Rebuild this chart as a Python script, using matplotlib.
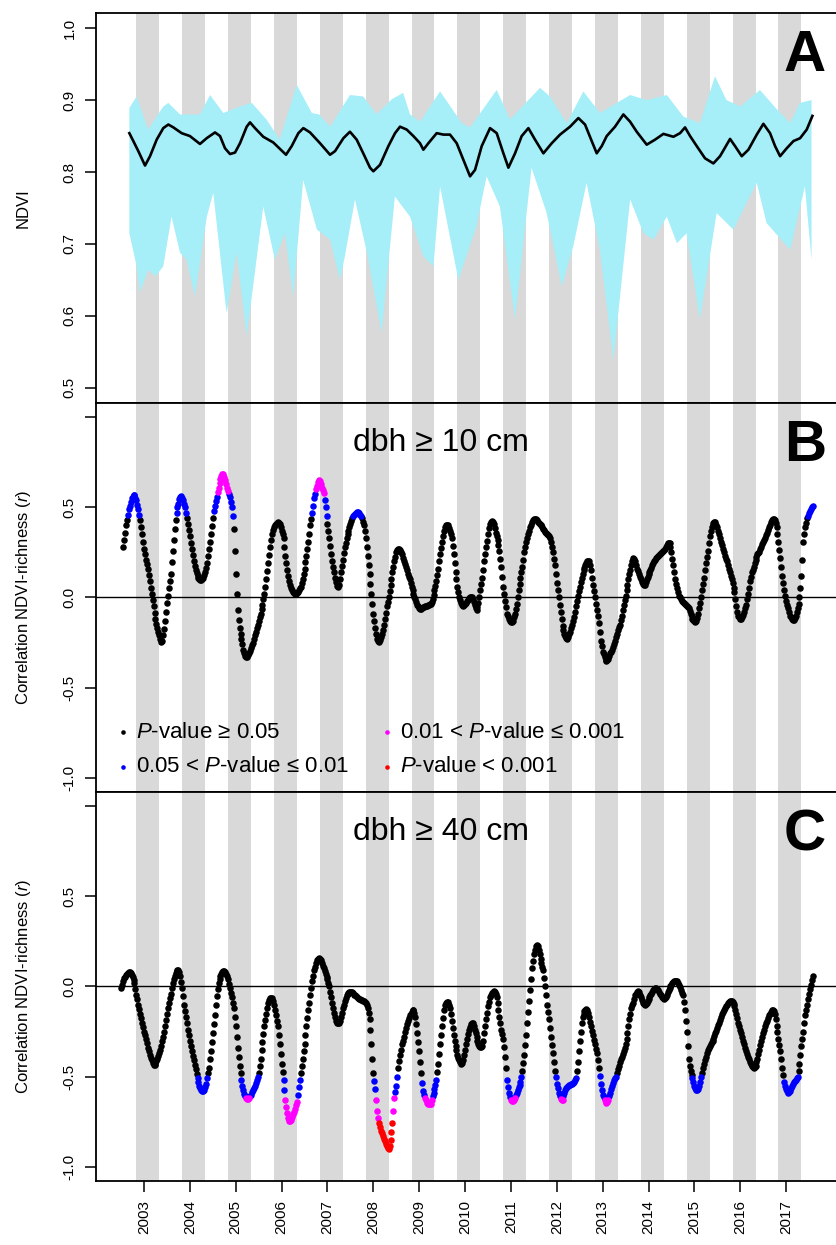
import numpy as np
import matplotlib
matplotlib.use('Agg')
import matplotlib.pyplot as plt

plt.rcParams['font.family'] = ['Liberation Sans', 'DejaVu Sans']
plt.rcParams['mathtext.fontset'] = 'custom'
plt.rcParams['mathtext.rm'] = 'Liberation Sans'
plt.rcParams['mathtext.it'] = 'Liberation Sans:italic'
plt.rcParams['mathtext.bf'] = 'Liberation Sans:bold'

years = list(range(2003, 2018))

# panel A: mean NDVI and its range
ndvi_t = [2002.68, 2002.767, 2002.876, 2003.022, 2003.131, 2003.276, 2003.42, 2003.53,
          2003.64, 2003.82, 2004.0, 2004.22, 2004.366, 2004.548, 2004.657, 2004.766,
          2004.875, 2004.984, 2005.093, 2005.239, 2005.311, 2005.42, 2005.6, 2005.82,
          2005.966, 2006.096, 2006.22, 2006.365, 2006.474, 2006.62, 2006.838, 2007.056,
          2007.165, 2007.347, 2007.49, 2007.637, 2007.78, 2007.928, 2008.0, 2008.146,
          2008.328, 2008.473, 2008.582, 2008.727, 2008.873, 2009.018, 2009.091, 2009.2,
          2009.382, 2009.527, 2009.672, 2009.818, 2009.963, 2010.109, 2010.218, 2010.363,
          2010.545, 2010.69, 2010.836, 2010.945, 2011.09, 2011.235, 2011.381, 2011.526,
          2011.708, 2011.89, 2012.071, 2012.289, 2012.471, 2012.616, 2012.762, 2012.871,
          2012.98, 2013.089, 2013.27, 2013.452, 2013.598, 2013.743, 2013.961, 2014.143,
          2014.325, 2014.543, 2014.688, 2014.797, 2014.906, 2015.052, 2015.233, 2015.415,
          2015.56, 2015.778, 2015.887, 2016.033, 2016.178, 2016.36, 2016.505, 2016.65,
          2016.76, 2016.869, 2017.014, 2017.16, 2017.305, 2017.45, 2017.574]
ndvi_mean = [0.854, 0.843, 0.829, 0.809, 0.822, 0.845, 0.861, 0.866,
             0.862, 0.854, 0.850, 0.839, 0.847, 0.855, 0.850, 0.833,
             0.825, 0.827, 0.840, 0.863, 0.869, 0.861, 0.849, 0.841,
             0.832, 0.824, 0.836, 0.854, 0.861, 0.855, 0.840, 0.824,
             0.829, 0.847, 0.856, 0.845, 0.826, 0.806, 0.801, 0.810,
             0.836, 0.854, 0.863, 0.859, 0.850, 0.840, 0.831, 0.840,
             0.854, 0.852, 0.852, 0.840, 0.817, 0.794, 0.803, 0.836,
             0.861, 0.854, 0.826, 0.806, 0.826, 0.850, 0.861, 0.845,
             0.826, 0.840, 0.852, 0.863, 0.875, 0.866, 0.843, 0.826,
             0.836, 0.850, 0.863, 0.880, 0.870, 0.856, 0.838, 0.845,
             0.853, 0.849, 0.854, 0.862, 0.850, 0.836, 0.819, 0.812,
             0.822, 0.846, 0.836, 0.822, 0.831, 0.852, 0.867, 0.854,
             0.836, 0.822, 0.833, 0.843, 0.847, 0.859, 0.878]

up_t = [2002.68, 2002.84, 2003.09, 2003.42, 2003.53, 2003.785, 2004.22, 2004.44,
        2004.73, 2005.09, 2005.35, 2005.67, 2005.96, 2006.33, 2006.66, 2006.82,
        2007.06, 2007.49, 2007.78, 2008.07, 2008.40, 2008.65, 2008.80, 2009.02,
        2009.455, 2009.93, 2010.11, 2010.69, 2010.98, 2011.635, 2011.85, 2012.22,
        2012.58, 2012.94, 2013.60, 2013.96, 2014.40, 2014.76, 2015.12, 2015.45,
        2015.70, 2016.0, 2016.43, 2016.80, 2017.09, 2017.30, 2017.555]
ndvi_up = [0.889, 0.905, 0.859, 0.891, 0.896, 0.880, 0.880, 0.907,
           0.882, 0.891, 0.896, 0.873, 0.845, 0.921, 0.882, 0.880,
           0.863, 0.907, 0.905, 0.880, 0.901, 0.910, 0.880, 0.870,
           0.912, 0.868, 0.862, 0.914, 0.873, 0.917, 0.905, 0.868,
           0.912, 0.882, 0.907, 0.900, 0.907, 0.877, 0.868, 0.933,
           0.900, 0.891, 0.914, 0.887, 0.868, 0.896, 0.900]

lo_t = [2002.68, 2002.84, 2002.91, 2003.09, 2003.25, 2003.42, 2003.60, 2003.785,
        2003.93, 2004.11, 2004.37, 2004.51, 2004.80, 2005.02, 2005.24, 2005.60,
        2005.855, 2006.07, 2006.255, 2006.47, 2006.77, 2007.06, 2007.27, 2007.38,
        2007.60, 2007.86, 2008.18, 2008.47, 2008.80, 2009.09, 2009.31, 2009.455,
        2009.855, 2010.25, 2010.47, 2010.76, 2011.09, 2011.45, 2011.78, 2012.11,
        2012.36, 2012.65, 2012.94, 2013.235, 2013.60, 2013.89, 2014.11, 2014.40,
        2014.62, 2014.83, 2015.12, 2015.485, 2015.85, 2016.36, 2016.575, 2017.09,
        2017.41, 2017.555]
ndvi_lo = [0.715, 0.669, 0.632, 0.664, 0.655, 0.669, 0.738, 0.688,
           0.678, 0.627, 0.738, 0.771, 0.604, 0.688, 0.572, 0.752,
           0.678, 0.715, 0.627, 0.789, 0.720, 0.706, 0.650, 0.683,
           0.762, 0.688, 0.576, 0.766, 0.738, 0.683, 0.669, 0.780,
           0.650, 0.725, 0.794, 0.752, 0.595, 0.806, 0.743, 0.641,
           0.697, 0.785, 0.692, 0.539, 0.762, 0.715, 0.706, 0.738,
           0.701, 0.715, 0.595, 0.743, 0.720, 0.785, 0.729, 0.692,
           0.780, 0.678]

# panels B and C: correlation read every 1/48 year, one row per year
step = 1 / 48
t0_b = 2002.5 + 2 * step
r_b = [
    0.28, 0.32, 0.36, 0.40, 0.43, 0.46, 0.49, 0.51, 0.53, 0.55, 0.56, 0.567,
    0.567, 0.555, 0.54, 0.515, 0.49, 0.46, 0.43, 0.39, 0.35, 0.31,
    # 2003
    0.27, 0.24, 0.21, 0.185, 0.16, 0.125, 0.09, 0.055, 0.02, -0.015, -0.05, -0.085,
    -0.12, -0.145, -0.17, -0.19, -0.21, -0.23, -0.245, -0.24, -0.21, -0.175, -0.13, -0.08,
    -0.03, 0.01, 0.05, 0.09, 0.13, 0.195, 0.26, 0.32, 0.38, 0.43, 0.47, 0.50,
    0.52, 0.545, 0.56, 0.565, 0.555, 0.54, 0.52, 0.50, 0.47, 0.44, 0.41, 0.375,
    # 2004
    0.34, 0.305, 0.27, 0.235, 0.20, 0.175, 0.155, 0.135, 0.12, 0.11, 0.10, 0.095,
    0.095, 0.10, 0.11, 0.125, 0.14, 0.165, 0.19, 0.23, 0.27, 0.31, 0.35, 0.395,
    0.44, 0.48, 0.51, 0.535, 0.56, 0.585, 0.61, 0.635, 0.66, 0.675, 0.685, 0.685,
    0.67, 0.65, 0.63, 0.61, 0.59, 0.575, 0.557, 0.53, 0.50, 0.45, 0.38, 0.26,
    # 2005
    0.13, 0.02, -0.07, -0.125, -0.17, -0.20, -0.23, -0.26, -0.29, -0.31, -0.325, -0.33,
    -0.33, -0.32, -0.31, -0.295, -0.28, -0.265, -0.25, -0.23, -0.21, -0.19, -0.17, -0.15,
    -0.13, -0.11, -0.09, -0.065, -0.04, -0.01, 0.02, 0.06, 0.10, 0.145, 0.19, 0.235,
    0.28, 0.32, 0.35, 0.375, 0.39, 0.40, 0.41, 0.415, 0.42, 0.415, 0.41, 0.39,
    # 2006
    0.37, 0.355, 0.33, 0.28, 0.23, 0.19, 0.15, 0.12, 0.09, 0.07, 0.05, 0.04,
    0.03, 0.025, 0.02, 0.02, 0.025, 0.03, 0.04, 0.05, 0.06, 0.08, 0.10, 0.13,
    0.16, 0.195, 0.23, 0.27, 0.31, 0.355, 0.40, 0.435, 0.47, 0.51, 0.55, 0.575,
    0.60, 0.62, 0.64, 0.65, 0.645, 0.63, 0.61, 0.595, 0.58, 0.54, 0.50, 0.455,
    # 2007
    0.41, 0.37, 0.33, 0.285, 0.24, 0.205, 0.17, 0.14, 0.11, 0.085, 0.065, 0.06,
    0.07, 0.10, 0.14, 0.175, 0.21, 0.245, 0.28, 0.305, 0.33, 0.35, 0.37, 0.39,
    0.41, 0.425, 0.44, 0.45, 0.46, 0.465, 0.47, 0.473, 0.474, 0.47, 0.46, 0.45,
    0.44, 0.42, 0.40, 0.37, 0.33, 0.28, 0.23, 0.18, 0.13, 0.075, 0.02, -0.035,
    # 2008
    -0.09, -0.13, -0.17, -0.20, -0.23, -0.24, -0.245, -0.235, -0.22, -0.20, -0.18, -0.15,
    -0.12, -0.085, -0.05, -0.025, 0.00, 0.035, 0.07, 0.105, 0.14, 0.17, 0.20, 0.225,
    0.25, 0.263, 0.27, 0.27, 0.265, 0.255, 0.24, 0.22, 0.20, 0.185, 0.17, 0.15,
    0.13, 0.115, 0.10, 0.08, 0.06, 0.04, 0.02, 0.005, -0.01, -0.025, -0.04, -0.05,
    # 2009
    -0.06, -0.063, -0.063, -0.06, -0.055, -0.052, -0.05, -0.048, -0.045, -0.042, -0.04, -0.038,
    -0.035, -0.025, -0.01, 0.015, 0.04, 0.065, 0.09, 0.125, 0.16, 0.20, 0.24, 0.275,
    0.31, 0.34, 0.37, 0.39, 0.405, 0.405, 0.40, 0.385, 0.37, 0.35, 0.33, 0.285,
    0.24, 0.19, 0.14, 0.10, 0.06, 0.03, 0.00, -0.015, -0.03, -0.04, -0.045, -0.042,
    # 2010
    -0.035, -0.028, -0.02, -0.012, -0.005, 0.00, 0.005, 0.0, -0.01, -0.025, -0.04, -0.06,
    -0.07, -0.055, -0.03, 0.005, 0.04, 0.075, 0.11, 0.155, 0.20, 0.24, 0.28, 0.315,
    0.35, 0.385, 0.41, 0.42, 0.425, 0.42, 0.41, 0.385, 0.36, 0.34, 0.32, 0.29,
    0.26, 0.215, 0.17, 0.115, 0.06, 0.02, -0.02, -0.055, -0.09, -0.105, -0.12, -0.13,
    # 2011
    -0.135, -0.137, -0.13, -0.11, -0.09, -0.065, -0.035, 0.00, 0.04, 0.075, 0.11, 0.14,
    0.17, 0.21, 0.25, 0.28, 0.31, 0.33, 0.35, 0.37, 0.39, 0.405, 0.42, 0.43,
    0.435, 0.437, 0.435, 0.43, 0.42, 0.415, 0.41, 0.405, 0.40, 0.39, 0.38, 0.372,
    0.365, 0.357, 0.35, 0.345, 0.34, 0.33, 0.31, 0.28, 0.25, 0.215, 0.18, 0.13,
    # 2012
    0.08, 0.04, 0.00, -0.04, -0.08, -0.12, -0.16, -0.18, -0.20, -0.215, -0.225, -0.228,
    -0.22, -0.205, -0.19, -0.17, -0.15, -0.13, -0.11, -0.08, -0.05, -0.02, 0.01, 0.035,
    0.06, 0.085, 0.11, 0.13, 0.15, 0.165, 0.18, 0.19, 0.20, 0.205, 0.20, 0.18,
    0.15, 0.11, 0.07, 0.035, 0.00, -0.035, -0.07, -0.105, -0.14, -0.19, -0.24, -0.27,
    # 2013
    -0.30, -0.315, -0.33, -0.345, -0.35, -0.348, -0.34, -0.325, -0.31, -0.30, -0.29, -0.275,
    -0.26, -0.24, -0.22, -0.20, -0.18, -0.165, -0.15, -0.125, -0.10, -0.07, -0.04, -0.015,
    0.01, 0.04, 0.07, 0.10, 0.13, 0.155, 0.18, 0.205, 0.22, 0.215, 0.20, 0.18,
    0.16, 0.145, 0.13, 0.115, 0.10, 0.085, 0.075, 0.068, 0.07, 0.085, 0.10, 0.115,
    # 2014
    0.13, 0.14, 0.15, 0.165, 0.18, 0.19, 0.20, 0.21, 0.22, 0.225, 0.23, 0.235,
    0.24, 0.248, 0.255, 0.26, 0.265, 0.272, 0.28, 0.29, 0.30, 0.305, 0.30, 0.28,
    0.25, 0.215, 0.18, 0.14, 0.10, 0.075, 0.05, 0.03, 0.01, 0.00, -0.01, -0.018,
    -0.025, -0.03, -0.035, -0.042, -0.05, -0.055, -0.06, -0.075, -0.09, -0.105, -0.12, -0.127,
    # 2015
    -0.13, -0.135, -0.13, -0.115, -0.09, -0.06, -0.03, 0.005, 0.04, 0.075, 0.11, 0.15,
    0.19, 0.225, 0.26, 0.30, 0.34, 0.37, 0.39, 0.405, 0.415, 0.42, 0.42, 0.405,
    0.39, 0.37, 0.35, 0.33, 0.31, 0.29, 0.27, 0.25, 0.23, 0.215, 0.20, 0.18,
    0.16, 0.14, 0.12, 0.10, 0.08, 0.055, 0.03, -0.01, -0.05, -0.08, -0.10, -0.11,
    # 2016
    -0.12, -0.118, -0.11, -0.095, -0.08, -0.06, -0.04, -0.01, 0.02, 0.055, 0.09, 0.115,
    0.14, 0.155, 0.17, 0.19, 0.21, 0.225, 0.24, 0.248, 0.255, 0.268, 0.28, 0.295,
    0.31, 0.32, 0.33, 0.345, 0.36, 0.375, 0.39, 0.405, 0.42, 0.43, 0.435, 0.437,
    0.43, 0.415, 0.39, 0.355, 0.31, 0.265, 0.22, 0.17, 0.12, 0.08, 0.04, 0.01,
    # 2017
    -0.02, -0.04, -0.06, -0.08, -0.10, -0.11, -0.12, -0.125, -0.125, -0.115, -0.10, -0.08,
    -0.06, -0.035, 0.00, 0.05, 0.12, 0.21, 0.31, 0.355, 0.39, 0.415, 0.44, 0.455,
    0.47, 0.48, 0.49, 0.50, 0.51]

t0_c = 2002.5
r_c = [
    -0.01, 0.01, 0.03, 0.045, 0.055, 0.063, 0.07, 0.076, 0.08, 0.078, 0.075, 0.064,
    0.05, 0.035, 0.02, -0.012, -0.045, -0.072, -0.10, -0.125, -0.15, -0.175, -0.20, -0.225,
    # 2003
    -0.25, -0.27, -0.29, -0.315, -0.34, -0.36, -0.38, -0.395, -0.41, -0.425, -0.435, -0.437,
    -0.43, -0.415, -0.40, -0.385, -0.37, -0.35, -0.33, -0.305, -0.28, -0.25, -0.22, -0.185,
    -0.15, -0.12, -0.09, -0.065, -0.04, -0.01, 0.02, 0.04, 0.06, 0.075, 0.085, 0.092,
    0.094, 0.082, 0.06, 0.027, -0.01, -0.055, -0.10, -0.135, -0.17, -0.205, -0.24, -0.27,
    # 2004
    -0.30, -0.33, -0.36, -0.385, -0.41, -0.435, -0.46, -0.485, -0.51, -0.53, -0.55, -0.565,
    -0.575, -0.58, -0.58, -0.573, -0.56, -0.54, -0.51, -0.48, -0.45, -0.405, -0.36, -0.31,
    -0.26, -0.21, -0.16, -0.105, -0.055, -0.015, 0.02, 0.043, 0.06, 0.072, 0.08, 0.084,
    0.085, 0.08, 0.07, 0.057, 0.04, 0.015, -0.01, -0.035, -0.06, -0.09, -0.12, -0.17,
    # 2005
    -0.22, -0.28, -0.34, -0.39, -0.44, -0.48, -0.52, -0.55, -0.575, -0.595, -0.61, -0.62,
    -0.625, -0.625, -0.62, -0.61, -0.60, -0.588, -0.575, -0.563, -0.55, -0.535, -0.52, -0.50,
    -0.48, -0.44, -0.40, -0.355, -0.31, -0.265, -0.22, -0.185, -0.15, -0.12, -0.09, -0.075,
    -0.065, -0.062, -0.065, -0.08, -0.10, -0.13, -0.16, -0.19, -0.22, -0.27, -0.32, -0.375,
    # 2006
    -0.43, -0.475, -0.52, -0.575, -0.63, -0.67, -0.70, -0.73, -0.745, -0.747, -0.74, -0.727,
    -0.71, -0.695, -0.68, -0.66, -0.64, -0.60, -0.56, -0.52, -0.48, -0.44, -0.40, -0.36,
    -0.32, -0.27, -0.22, -0.175, -0.13, -0.09, -0.05, -0.01, 0.03, 0.06, 0.09, 0.11,
    0.13, 0.145, 0.155, 0.158, 0.155, 0.145, 0.13, 0.115, 0.10, 0.085, 0.07, 0.055,
    # 2007
    0.04, 0.02, 0.00, -0.03, -0.06, -0.09, -0.12, -0.145, -0.17, -0.19, -0.20, -0.205,
    -0.20, -0.19, -0.17, -0.145, -0.12, -0.10, -0.08, -0.063, -0.05, -0.042, -0.035, -0.031,
    -0.028, -0.028, -0.03, -0.037, -0.045, -0.05, -0.055, -0.06, -0.063, -0.067, -0.07, -0.073,
    -0.075, -0.078, -0.08, -0.085, -0.09, -0.10, -0.12, -0.145, -0.18, -0.24, -0.32, -0.40,
    # 2008
    -0.48, -0.525, -0.57, -0.63, -0.69, -0.73, -0.76, -0.78, -0.80, -0.815, -0.83, -0.845,
    -0.86, -0.873, -0.885, -0.895, -0.905, -0.885, -0.85, -0.81, -0.76, -0.69, -0.62, -0.585,
    -0.554, -0.50, -0.45, -0.415, -0.38, -0.35, -0.32, -0.30, -0.28, -0.255, -0.23, -0.21,
    -0.19, -0.175, -0.16, -0.15, -0.14, -0.132, -0.13, -0.145, -0.17, -0.21, -0.26, -0.31,
    # 2009
    -0.36, -0.42, -0.48, -0.535, -0.58, -0.60, -0.62, -0.633, -0.645, -0.65, -0.655, -0.655,
    -0.65, -0.63, -0.61, -0.59, -0.57, -0.545, -0.52, -0.475, -0.43, -0.375, -0.32, -0.27,
    -0.22, -0.175, -0.13, -0.105, -0.09, -0.085, -0.085, -0.10, -0.12, -0.155, -0.19, -0.23,
    -0.27, -0.30, -0.33, -0.355, -0.38, -0.395, -0.41, -0.42, -0.43, -0.425, -0.41, -0.38,
    # 2010
    -0.35, -0.32, -0.29, -0.265, -0.24, -0.225, -0.21, -0.203, -0.205, -0.22, -0.24, -0.26,
    -0.28, -0.30, -0.32, -0.33, -0.335, -0.335, -0.33, -0.30, -0.26, -0.22, -0.18, -0.145,
    -0.11, -0.085, -0.06, -0.045, -0.035, -0.028, -0.026, -0.03, -0.04, -0.06, -0.09, -0.13,
    -0.17, -0.205, -0.24, -0.265, -0.29, -0.335, -0.39, -0.455, -0.52, -0.56, -0.59, -0.615,
    # 2011
    -0.63, -0.635, -0.635, -0.63, -0.62, -0.605, -0.59, -0.575, -0.56, -0.545, -0.53, -0.50,
    -0.47, -0.425, -0.38, -0.325, -0.27, -0.205, -0.14, -0.08, -0.02, 0.04, 0.10, 0.14,
    0.18, 0.205, 0.225, 0.232, 0.225, 0.205, 0.18, 0.155, 0.13, 0.11, 0.09, 0.045,
    0.00, -0.05, -0.10, -0.14, -0.18, -0.23, -0.28, -0.325, -0.37, -0.42, -0.47, -0.505,
    # 2012
    -0.54, -0.565, -0.59, -0.61, -0.625, -0.632, -0.63, -0.61, -0.59, -0.575, -0.565, -0.557,
    -0.55, -0.547, -0.545, -0.542, -0.54, -0.535, -0.53, -0.52, -0.51, -0.47, -0.42, -0.36,
    -0.30, -0.25, -0.20, -0.17, -0.15, -0.138, -0.13, -0.127, -0.13, -0.148, -0.17, -0.195,
    -0.22, -0.245, -0.27, -0.295, -0.32, -0.345, -0.37, -0.41, -0.45, -0.495, -0.54, -0.575,
    # 2013
    -0.60, -0.615, -0.63, -0.64, -0.645, -0.642, -0.63, -0.61, -0.59, -0.57, -0.55, -0.535,
    -0.52, -0.51, -0.50, -0.48, -0.46, -0.44, -0.42, -0.405, -0.39, -0.375, -0.36, -0.34,
    -0.32, -0.29, -0.26, -0.22, -0.18, -0.15, -0.12, -0.105, -0.09, -0.07, -0.05, -0.04,
    -0.03, -0.027, -0.03, -0.045, -0.06, -0.075, -0.09, -0.097, -0.10, -0.097, -0.09, -0.08,
    # 2014
    -0.07, -0.06, -0.05, -0.04, -0.03, -0.022, -0.015, -0.01, -0.008, -0.012, -0.02, -0.03,
    -0.04, -0.05, -0.06, -0.065, -0.068, -0.066, -0.06, -0.045, -0.03, -0.02, -0.01, 0.00,
    0.01, 0.018, 0.025, 0.028, 0.03, 0.03, 0.028, 0.02, 0.01, -0.005, -0.02, -0.035,
    -0.05, -0.085, -0.13, -0.19, -0.25, -0.33, -0.40, -0.44, -0.47, -0.49, -0.51, -0.53,
    # 2015
    -0.55, -0.565, -0.575, -0.577, -0.57, -0.55, -0.53, -0.505, -0.48, -0.455, -0.43, -0.41,
    -0.39, -0.37, -0.35, -0.34, -0.33, -0.32, -0.31, -0.30, -0.29, -0.275, -0.26, -0.245,
    -0.23, -0.215, -0.20, -0.185, -0.17, -0.155, -0.14, -0.13, -0.12, -0.11, -0.10, -0.092,
    -0.085, -0.08, -0.08, -0.082, -0.085, -0.095, -0.11, -0.13, -0.15, -0.175, -0.20, -0.22,
    # 2016
    -0.24, -0.26, -0.28, -0.30, -0.32, -0.34, -0.36, -0.375, -0.39, -0.405, -0.42, -0.43,
    -0.44, -0.447, -0.45, -0.447, -0.44, -0.42, -0.40, -0.375, -0.35, -0.325, -0.30, -0.28,
    -0.26, -0.24, -0.22, -0.205, -0.19, -0.175, -0.16, -0.15, -0.14, -0.133, -0.13, -0.135,
    -0.15, -0.18, -0.22, -0.255, -0.29, -0.325, -0.36, -0.405, -0.45, -0.49, -0.53, -0.555,
    # 2017
    -0.57, -0.582, -0.59, -0.588, -0.58, -0.565, -0.55, -0.54, -0.53, -0.525, -0.52, -0.51,
    -0.50, -0.47, -0.43, -0.38, -0.33, -0.29, -0.25, -0.205, -0.16, -0.13, -0.10, -0.07,
    -0.04, -0.015, 0.01, 0.035, 0.06]

# |r| limits of the p-value classes, read where the dot colour changes
crit_b = [0.45, 0.58, 9.0]
crit_c = [0.495, 0.62, 0.75]
class_colours = ['black', '#0000ff', '#ff00ff', '#ff0000']
class_labels = [r'$P$-value ≥ 0.05', r'0.05 < $P$-value ≤ 0.01',
                r'0.01 < $P$-value ≤ 0.001', r'$P$-value < 0.001']

fig = plt.figure(figsize=(8.37, 12.45), dpi=100)
left, width = 96 / 837, 741 / 837
ax_a = fig.add_axes([left, 0.67631, width, 0.31325])
ax_b = fig.add_axes([left, 0.36386, width, 0.31245])
ax_c = fig.add_axes([left, 0.05141, width, 0.31245])

for ax in (ax_a, ax_b, ax_c):
    ax.set_xlim(2001.953, 2018.11)
    for y in years:
        ax.axvspan(y - 2 / 12, y + 4 / 12, color='#d9d9d9', lw=0, zorder=0)
    ax.spines['right'].set_visible(False)
    for s in ('top', 'bottom', 'left'):
        ax.spines[s].set_linewidth(1.3)
    ax.tick_params(axis='both', length=8, width=1.1, pad=6, labelsize=11)

# panel A
ax_a.fill(np.r_[up_t, lo_t[::-1]], np.r_[ndvi_up, ndvi_lo[::-1]],
          color='#a6eef8', lw=0, zorder=1)
ax_a.plot(ndvi_t, ndvi_mean, color='black', lw=1.9, zorder=2,
          solid_joinstyle='round')
ax_a.set_ylim(0.479, 1.021)
ax_a.set_yticks([0.5, 0.6, 0.7, 0.8, 0.9, 1.0])
ax_a.set_yticklabels(['0.5', '0.6', '0.7', '0.8', '0.9', '1.0'])
ax_a.set_xticks([])
ax_a.text(-0.0978, 0.5, 'NDVI', transform=ax_a.transAxes, rotation=90,
          ha='center', va='center', fontsize=12)


def p_class(r, crit):
    a = np.abs(np.asarray(r))
    k = np.zeros(len(a), dtype=int)
    for i, c in enumerate(crit):
        k[a >= c] = i + 1
    return k


for ax, t0, r, crit, name in ((ax_b, t0_b, r_b, crit_b, 'dbh ≥ 10 cm'),
                              (ax_c, t0_c, r_c, crit_c, 'dbh ≥ 40 cm')):
    t = t0 + np.arange(len(r)) * step
    r = np.asarray(r)
    k = p_class(r, crit)
    ax.axhline(0, color='black', lw=1.0, zorder=1)
    for i, col in enumerate(class_colours):
        m = k == i
        ax.scatter(t[m], r[m], s=22, color=col, linewidths=0, zorder=3 + i)
    ax.set_ylim(-1.08, 1.08)
    ax.set_yticks([-1.0, -0.5, 0.0, 0.5, 1.0])
    ax.set_yticklabels(['-1.0', '-0.5', '0.0', '0.5', ''])
    ax.text(0.466, 0.935, name, transform=ax.transAxes, ha='center', va='top',
            fontsize=23)
    ax.text(-0.0978, 0.5, r'Correlation NDVI-richness ($r$)', transform=ax.transAxes,
            rotation=90, ha='center', va='center', fontsize=12)

ax_b.set_xticks([])
ax_c.set_xticks(years)
ax_c.set_xticklabels([str(y) for y in years], rotation=90)

for ax in (ax_a, ax_b, ax_c):
    for lab in ax.get_yticklabels():
        lab.set_rotation(90)
        lab.set_va('center')

for ax, letter in ((ax_a, 'A'), (ax_b, 'B'), (ax_c, 'C')):
    ax.text(0.985, 0.958, letter, transform=ax.transAxes, ha='right', va='top',
            fontsize=42, fontweight='bold')

# legend of p-value classes
leg_pos = [(0.0364, 0.154), (0.0364, 0.0643), (0.3927, 0.154), (0.3927, 0.0643)]
for (lx, ly), col, lab in zip(leg_pos, class_colours, class_labels):
    ax_b.plot(lx, ly, 'o', ms=3.3, color=col, mew=0, transform=ax_b.transAxes)
    ax_b.text(lx + 0.018, ly, lab, transform=ax_b.transAxes, ha='left',
              va='center', fontsize=16)

fig.savefig('out.png', dpi=100)
